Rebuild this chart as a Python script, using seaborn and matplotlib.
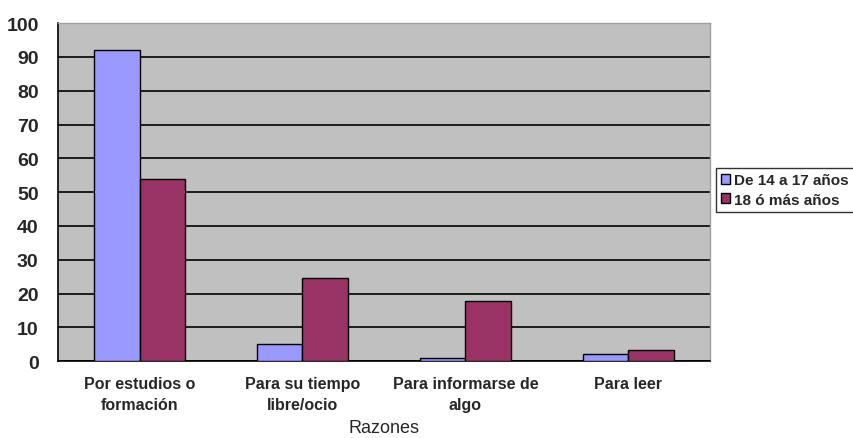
import numpy as np
import pandas as pd
import matplotlib
matplotlib.use("Agg")
import matplotlib.pyplot as plt
import seaborn as sns

# Datos
razones = ["Por estudios o\nformación", "Para su tiempo\nlibre/ocio",
           "Para informarse de\nalgo", "Para leer"]
grupos = ["De 14 a 17 años", "18 ó más años"]
valores_14_17 = [92, 5, 0.8, 2]
valores_18_mas = [54, 24.5, 17.8, 3.3]
colores = ["#9999FF", "#993366"]
yticks = list(range(0, 101, 10))

df = pd.DataFrame({
    "Razones": razones * 2,
    "Grupo": [grupos[0]] * 4 + [grupos[1]] * 4,
    "Valor": valores_14_17 + valores_18_mas,
})

sns.set_style("white")
plt.rcParams["font.family"] = ["Liberation Sans", "DejaVu Sans"]

fig = plt.figure(figsize=(8.54, 4.39), dpi=100)
ax = fig.add_axes([0.068, 0.175, 0.763, 0.77])
ax.set_facecolor("#C0C0C0")

sns.barplot(data=df, x="Razones", y="Valor", hue="Grupo", palette=colores,
            width=0.56, edgecolor="black", linewidth=1.0, saturation=1,
            ax=ax, zorder=3)

ax.set_ylim(0, 100)
ax.set_xlim(-0.5, 3.5)
ax.set_yticks(yticks)
ax.set_yticklabels([str(t) for t in yticks], fontsize=14, fontweight="bold")
ax.yaxis.grid(True, color="black", linewidth=1.2, zorder=0)
ax.set_axisbelow(True)

# marcas del eje x entre categorías
ax.set_xticks(range(4))
ax.set_xticklabels(razones, fontsize=11.5, fontweight="bold", linespacing=1.45)
ax.set_xticks(np.arange(-0.5, 4, 1), minor=True)
ax.tick_params(axis="x", which="major", length=0, pad=11)
ax.tick_params(axis="x", which="minor", length=6, width=1, color="black", direction="out")
ax.tick_params(axis="y", which="major", length=7, width=1, color="black", direction="out", pad=7)

ax.set_xlabel("Razones", fontsize=13, labelpad=5)
ax.set_ylabel("")

for s in ["left", "bottom"]:
    ax.spines[s].set_color("black")
    ax.spines[s].set_linewidth(1.2)
for s in ["top", "right"]:
    ax.spines[s].set_color("#A0A0A0")
    ax.spines[s].set_linewidth(1)

leg = ax.legend(loc="center left", bbox_to_anchor=(0.838, 0.565),
                bbox_transform=fig.transFigure, frameon=True, fancybox=False,
                prop={"weight": "bold", "size": 11}, handlelength=0.6,
                handleheight=0.6, handletextpad=0.25, borderpad=0.35,
                labelspacing=0.35, borderaxespad=0)
leg.get_frame().set_edgecolor("black")
leg.get_frame().set_linewidth(1)

fig.savefig("out.png", dpi=100, facecolor="white")
